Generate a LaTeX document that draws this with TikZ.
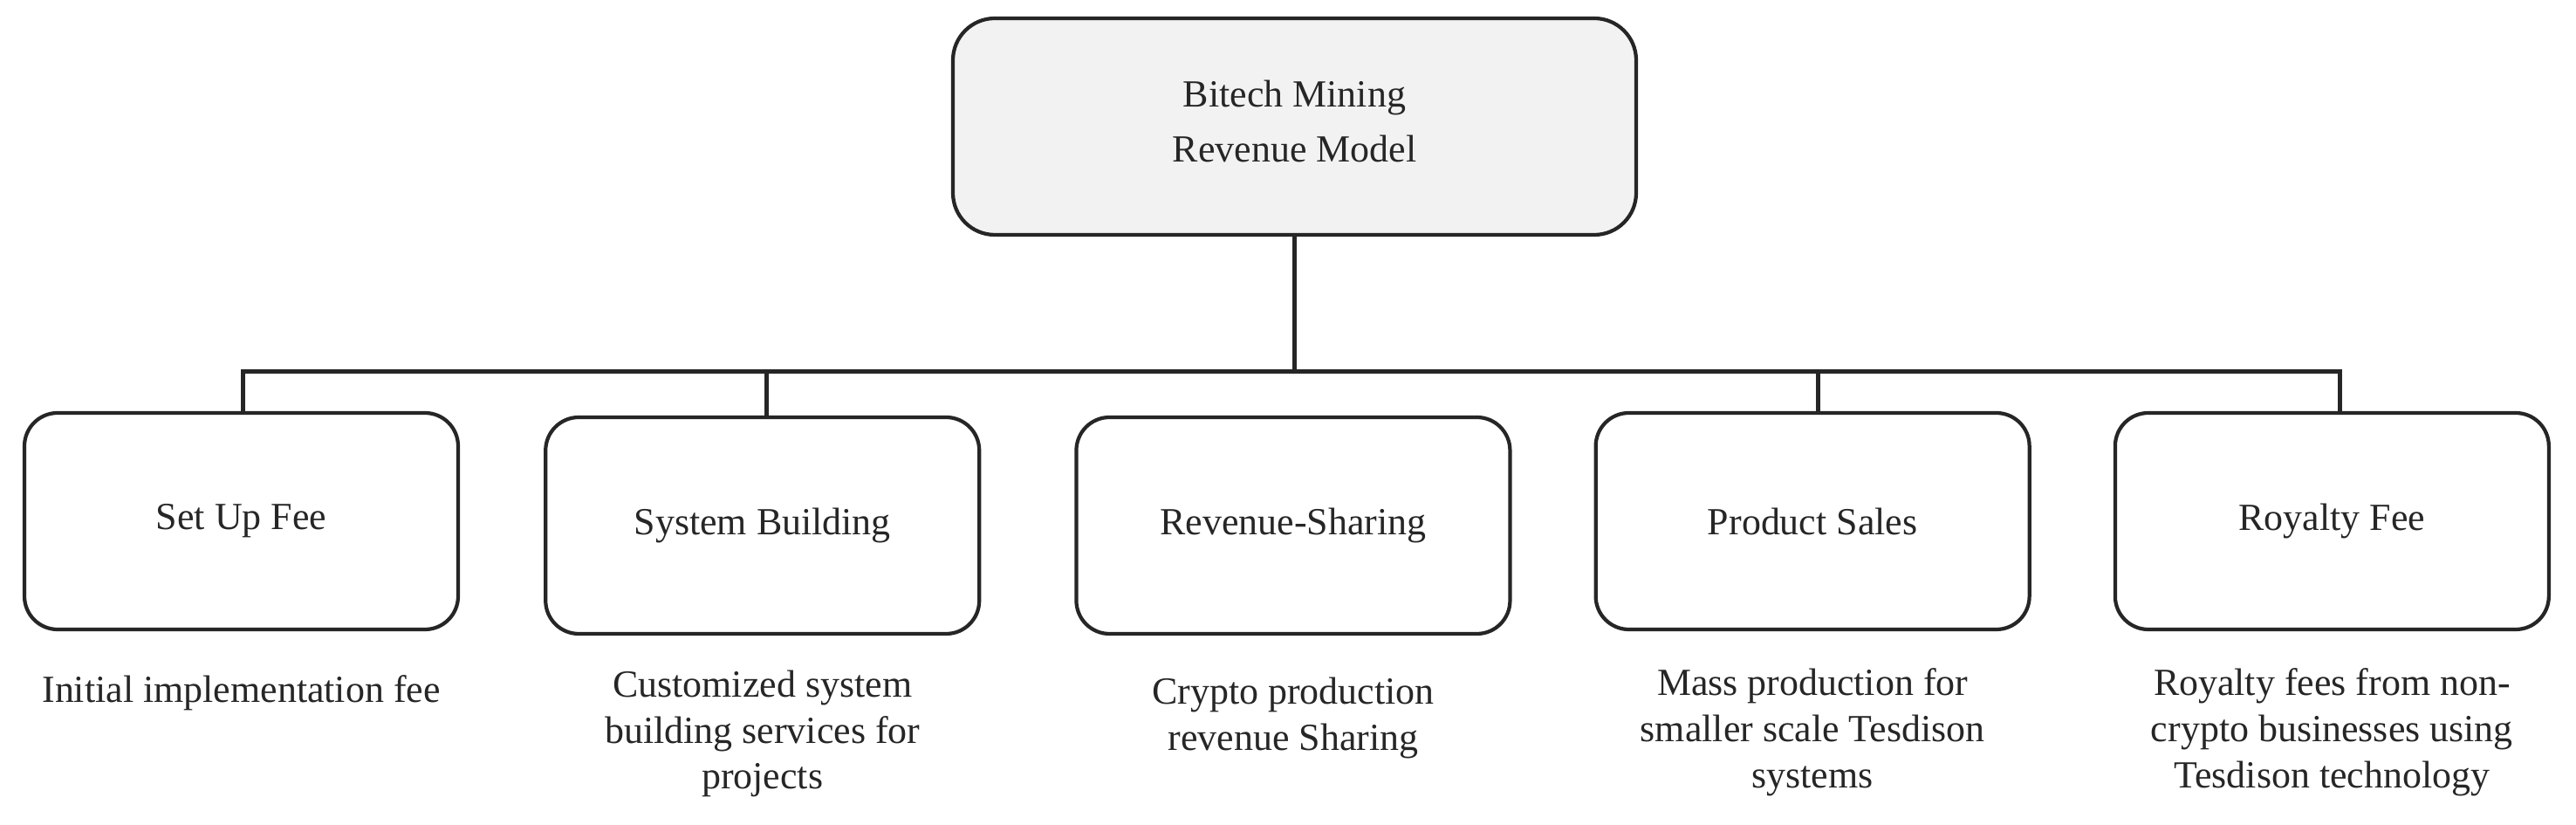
\documentclass[tikz,border=0pt]{standalone}
\usepackage{fontspec}
\setmainfont{Liberation Serif}
\usepackage{tikz}
\usetikzlibrary{positioning,calc}
\definecolor{bitechline}{HTML}{262626}
\definecolor{bitechgray}{HTML}{F2F2F2}

\begin{document}
\begin{tikzpicture}[
  font=\fontsize{12.5}{15}\selectfont,
  text=bitechline,
  head/.style={draw=bitechline, line width=1.2pt, rounded corners=0.48cm, fill=bitechgray, minimum width=7.83cm, minimum height=2.48cm, align=center, font=\fontsize{12.5}{18}\selectfont},
  rev/.style={draw=bitechline, line width=1.2pt, rounded corners=0.38cm, fill=white, minimum width=4.97cm, minimum height=2.48cm, align=center},
  desc/.style={align=center, inner sep=0pt},
  link/.style={draw=bitechline, line width=1.4pt}
]
\useasboundingbox (0,0) rectangle (29.52,-9.45);

\node[head] (top) at (14.835,-1.45) {Bitech Mining\\ Revenue Model\\[-14.6pt]};

\node[rev] (setup) at (2.765,-5.97) {Set Up Fee};
\node[rev, right=0.96cm of setup, yshift=-0.05cm] (sysbuild) {System Building};
\node[rev, right=1.07cm of sysbuild] (revshare) {Revenue-Sharing};
\node[rev, right=0.94cm of revshare, yshift=0.05cm] (sales) {Product Sales};
\node[rev, right=0.94cm of sales] (royalty) {Royalty Fee};

\node[desc, below=0.5cm of setup] (setupd) {Initial implementation fee};
\node[desc, below=0.39cm of sysbuild] (sysbuildd) {Customized system\\ building services for\\ projects};
\node[desc, below=0.47cm of revshare] (revshared) {Crypto production\\ revenue Sharing};
\node[desc, below=0.42cm of sales] (salesd) {Mass production for\\ smaller scale Tesdison\\ systems};
\node[desc, below=0.42cm of royalty] (royaltyd) {Royalty fees from non-\\ crypto businesses using\\ Tesdison technology};

\coordinate (hub) at ($(top.south)+(0,-1.54)$);

\draw[link] (top.south) -- (hub);
\draw[link] ([xshift=0.02cm]setup.north) |- (hub) -| ([xshift=0.09cm]royalty.north);
\draw[link] ([xshift=0.05cm]sysbuild.north) -- ([xshift=0.05cm]sysbuild.north |- hub);
\draw[link] ([xshift=0.06cm]sales.north) -- ([xshift=0.06cm]sales.north |- hub);
\end{tikzpicture}
\end{document}
